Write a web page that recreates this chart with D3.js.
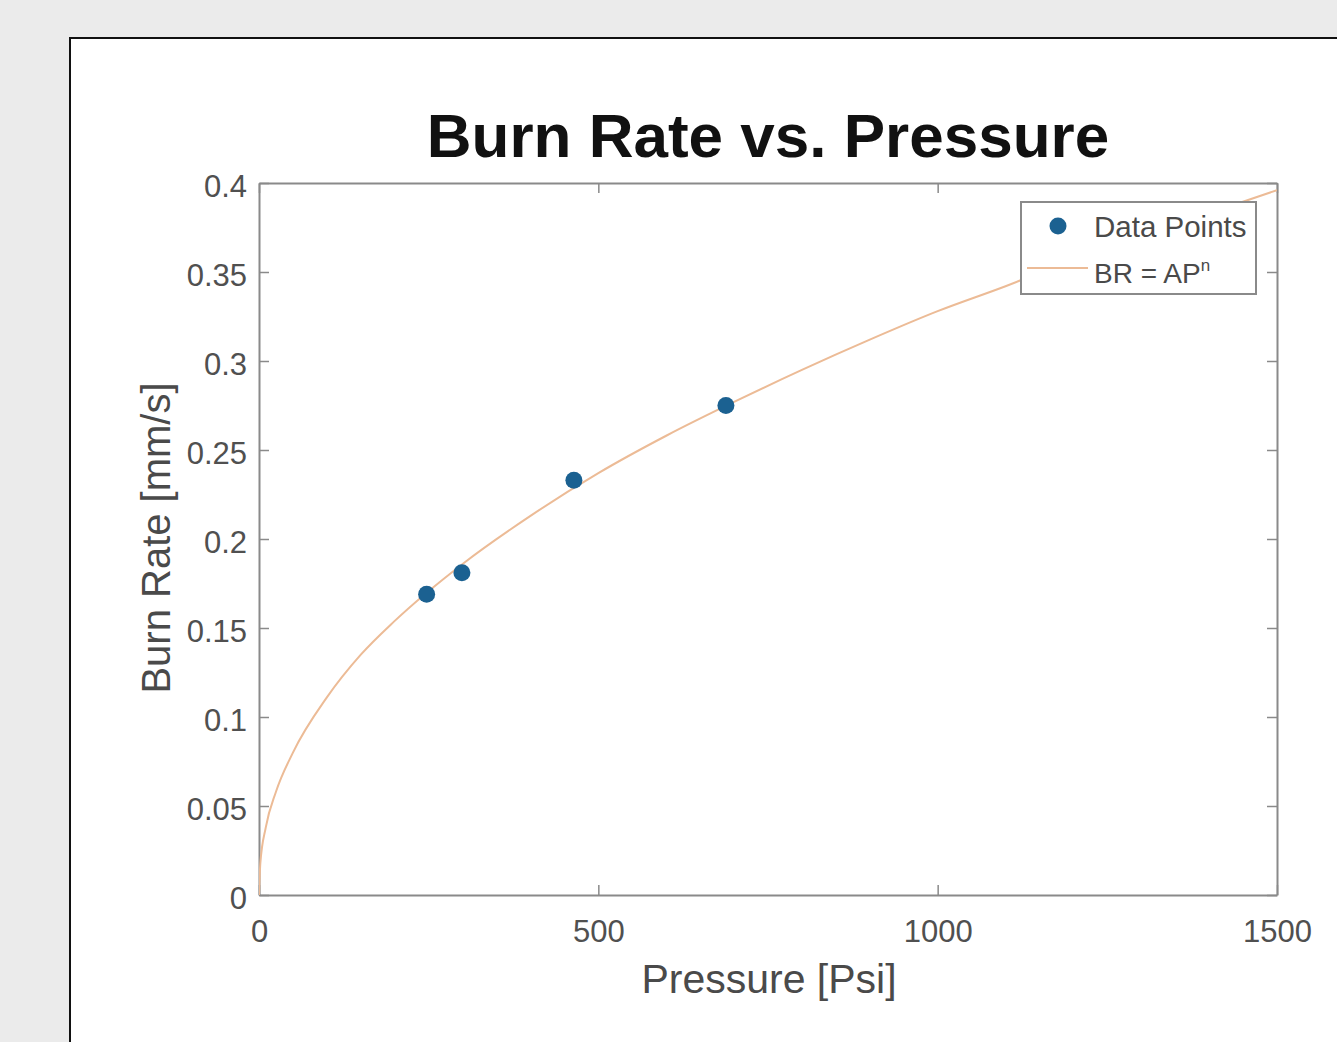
<!DOCTYPE html>
<html>
<head>
<meta charset="utf-8">
<script src="https://cdn.jsdelivr.net/npm/d3@7"></script>
<style>
	body { margin: 0; background: #ebebeb; }
	svg { display: block; font-family: "Liberation Sans", Arial, Helvetica, sans-serif; }
</style>
</head>
<body>
<div id="chart-container"></div>
<script>
var pressure_points = [247, 299, 464, 688];
var burn_rate_points = [0.169, 0.181, 0.233, 0.275];

// fitted curve BR = A*P^n
var fit_pressure = [0, 2, 10, 25, 50, 100, 150, 200, 300, 400, 500, 600, 700, 800, 900, 1000, 1100, 1200, 1300, 1400, 1500];
var fit_burn_rate = [0, 0.018, 0.038, 0.058, 0.080, 0.111, 0.135, 0.154, 0.186, 0.213, 0.237, 0.258, 0.277, 0.295, 0.312, 0.328, 0.342, 0.357, 0.370, 0.383, 0.396];

var x_ticks = [0, 500, 1000, 1500];
var x_tick_labels = ["0", "500", "1000", "1500"];
var y_ticks = [0, 0.05, 0.1, 0.15, 0.2, 0.25, 0.3, 0.35, 0.4];
var y_tick_labels = ["0", "0.05", "0.1", "0.15", "0.2", "0.25", "0.3", "0.35", "0.4"];
var legend_labels = ["Data Points", "BR = AP"];

var width = 1337, height = 1042;
var plot = {left: 259, right: 1277, top: 183, bottom: 895};

draw_chart();

function draw_chart() {
	var svg = d3.select("#chart-container").append("svg")
				.attr("width", width)
				.attr("height", height);

	svg.append("rect")
		.attr("x", 0).attr("y", 0)
		.attr("width", width).attr("height", height)
		.attr("fill", "#ebebeb");

	svg.append("rect")
		.attr("x", 70).attr("y", 38)
		.attr("width", width).attr("height", height)
		.attr("fill", "#ffffff")
		.attr("stroke", "#111")
		.attr("stroke-width", 2);

	var x = d3.scaleLinear().domain([0, 1500]).range([plot.left, plot.right]);
	var y = d3.scaleLinear().domain([0, 0.4]).range([plot.bottom, plot.top]);

	draw_axes(svg, x, y);

	svg.append("clipPath")
		.attr("id", "plot-clip")
		.append("rect")
			.attr("x", plot.left).attr("y", plot.top - 10)
			.attr("width", plot.right - plot.left).attr("height", plot.bottom - plot.top + 10);

	var line = d3.line()
				 .x(function(d) { return x(d[0]); })
				 .y(function(d) { return y(d[1]); })
				 .curve(d3.curveMonotoneX);

	svg.append("path")
		.datum(d3.zip(fit_pressure, fit_burn_rate))
		.attr("clip-path", "url(#plot-clip)")
		.attr("d", line)
		.attr("fill", "none")
		.attr("stroke", "#ecbb96")
		.attr("stroke-width", 2);

	svg.selectAll(".data-point")
		.data(d3.zip(pressure_points, burn_rate_points))
		.enter().append("circle")
			.attr("class", "data-point")
			.attr("cx", function(d) { return x(d[0]); })
			.attr("cy", function(d) { return y(d[1]); })
			.attr("r", 8.5)
			.attr("fill", "#1b6191");

	svg.append("text")
		.attr("x", 768)
		.attr("y", 157)
		.attr("text-anchor", "middle")
		.attr("font-size", 62)
		.attr("font-weight", "bold")
		.attr("fill", "#111")
		.text("Burn Rate vs. Pressure");

	svg.append("text")
		.attr("x", 769)
		.attr("y", 993)
		.attr("text-anchor", "middle")
		.attr("font-size", 41)
		.attr("fill", "#4a4a4a")
		.text("Pressure [Psi]");

	svg.append("text")
		.attr("transform", "translate(170," + 538 + ") rotate(-90)")
		.attr("text-anchor", "middle")
		.attr("font-size", 40)
		.attr("fill", "#4a4a4a")
		.text("Burn Rate [mm/s]");

	draw_legend(svg);
}

function draw_axes(svg, x, y) {
	var x_axis = svg.append("g")
					.attr("transform", "translate(0," + plot.bottom + ")")
					.call(d3.axisBottom(x).tickValues(x_ticks).tickFormat(function(d, i) { return x_tick_labels[i]; })
							.tickSizeInner(-10).tickSizeOuter(0).tickPadding(25));
	var y_axis = svg.append("g")
					.attr("transform", "translate(" + plot.left + ",0)")
					.call(d3.axisLeft(y).tickValues(y_ticks).tickFormat(function(d, i) { return y_tick_labels[i]; })
							.tickSizeInner(-10).tickSizeOuter(0).tickPadding(12));
	var top_axis = svg.append("g")
					  .attr("transform", "translate(0," + plot.top + ")")
					  .call(d3.axisTop(x).tickValues(x_ticks).tickFormat("").tickSizeInner(-10).tickSizeOuter(0));
	var right_axis = svg.append("g")
						.attr("transform", "translate(" + plot.right + ",0)")
						.call(d3.axisRight(y).tickValues(y_ticks).tickFormat("").tickSizeInner(-10).tickSizeOuter(0));

	[x_axis, y_axis, top_axis, right_axis].forEach(function(g) {
		g.select(".domain").attr("stroke", "#8a8a8a").attr("stroke-width", 2);
		g.selectAll(".tick line").attr("stroke", "#8a8a8a").attr("stroke-width", 1.5);
		g.selectAll(".tick text")
			.attr("font-family", "'Liberation Sans', Arial, sans-serif")
			.attr("font-size", 31)
			.attr("fill", "#505050");
	});
	y_axis.selectAll(".tick text").attr("dy", "0.42em");
}

function draw_legend(svg) {
	var legend = svg.append("g").attr("class", "legend");

	legend.append("rect")
		.attr("x", 1021).attr("y", 202)
		.attr("width", 235).attr("height", 92)
		.attr("fill", "#ffffff")
		.attr("stroke", "#8a8a8a")
		.attr("stroke-width", 2);

	legend.append("circle")
		.attr("cx", 1058).attr("cy", 226)
		.attr("r", 8.5)
		.attr("fill", "#1b6191");

	legend.append("line")
		.attr("x1", 1027).attr("x2", 1088)
		.attr("y1", 268).attr("y2", 268)
		.attr("stroke", "#ecbb96")
		.attr("stroke-width", 2);

	legend.append("text")
		.attr("x", 1094).attr("y", 237)
		.attr("font-size", 29.5)
		.attr("fill", "#4a4a4a")
		.text(legend_labels[0]);

	var fit_label = legend.append("text")
						  .attr("x", 1094).attr("y", 283)
						  .attr("font-size", 28)
						  .attr("fill", "#4a4a4a")
						  .text(legend_labels[1]);
	fit_label.append("tspan")
		.attr("dy", -12)
		.attr("font-size", 17)
		.text("n");
}
</script>
</body>
</html>
